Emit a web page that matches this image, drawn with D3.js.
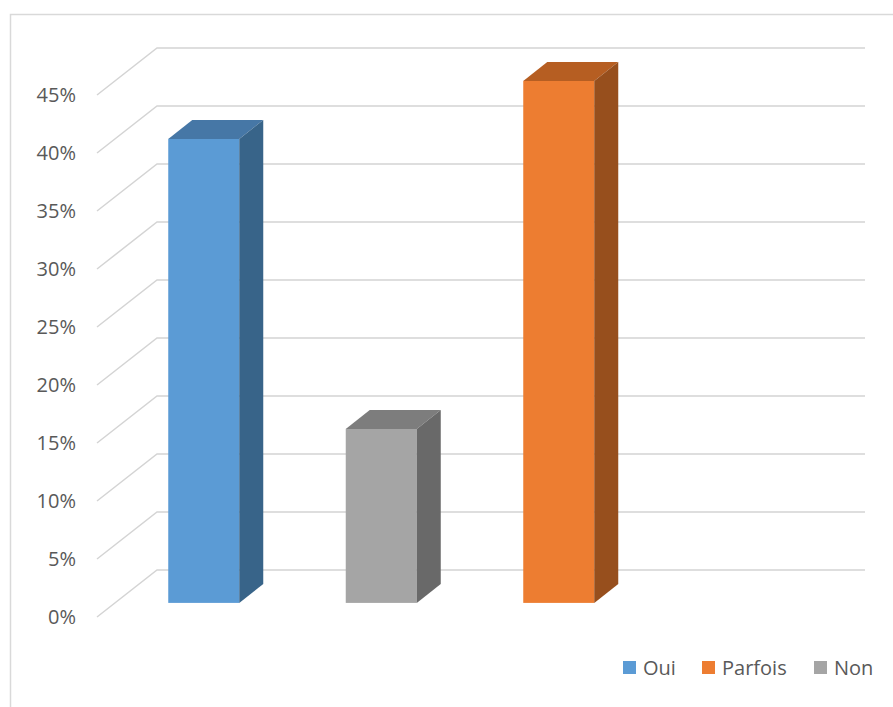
<!DOCTYPE html>
<html>
<head>
<meta charset="utf-8">
<script src="https://cdn.jsdelivr.net/npm/d3@7"></script>
<style>
  html, body { margin: 0; padding: 0; background: #fff; }
  svg { display: block; font-family: "Open Sans", "Noto Sans", sans-serif; }
</style>
</head>
<body>
<svg id="chart" width="893" height="707"></svg>
<script>
// Survey answers, share of respondents
const categories = ["Oui", "Non", "Parfois"];
const values = [0.40, 0.15, 0.45];
const colors = ["#5b9bd5", "#a5a5a5", "#ed7d31"];
const topColors = ["#4677a6", "#7d7d7d", "#b65e22"];
const sideColors = ["#386489", "#696969", "#974f1d"];
const legendOrder = ["Oui", "Parfois", "Non"];
const tickValues = [0, 0.05, 0.10, 0.15, 0.20, 0.25, 0.30, 0.35, 0.40, 0.45];

const svg = d3.select("#chart");

// Oblique projection: full floor depth shifts points right and up
const depthX = 60, depthY = -47;
const barNear = 0.3, barFar = 0.7;

const frontLeft = 97, backRight = 865;
const y = d3.scaleLinear().domain([0, 0.45]).range([617, 95]);
const x = d3.scaleBand()
  .domain(categories)
  .range([frontLeft, frontLeft + 177.5 * 3])
  .paddingInner(0.6)
  .paddingOuter(0.3);

// Chart frame
svg.append("path")
  .attr("d", "M10.5,707 L10.5,14.5 L893,14.5")
  .attr("fill", "none")
  .attr("stroke", "#d9d9d9")
  .attr("stroke-width", 1.5);

// Gridlines: wall line plus its diagonal down to the front edge
const grid = svg.append("g").attr("fill", "none").attr("stroke", "#d4d4d4").attr("stroke-width", 1.5);
grid.selectAll("path")
  .data(tickValues)
  .join("path")
  .attr("d", t => {
    const yf = y(t);
    return `M${frontLeft},${yf} L${frontLeft + depthX},${yf + depthY} L${backRight},${yf + depthY}`;
  });

// Tick labels
svg.append("g")
  .selectAll("text")
  .data(tickValues)
  .join("text")
  .attr("x", 76)
  .attr("y", t => y(t))
  .attr("dy", "0.36em")
  .attr("text-anchor", "end")
  .attr("fill", "#595959")
  .attr("font-size", 20)
  .text(d3.format(".0%"));

// 3D bars
const bars = svg.append("g");
categories.forEach((c, i) => {
  const v = values[i];
  const ox = depthX * barNear, oy = depthY * barNear;
  const dx = depthX * (barFar - barNear), dy = depthY * (barFar - barNear);
  const x0 = x(c) + ox, x1 = x0 + x.bandwidth();
  const yTop = y(v) + oy, yBot = y(0) + oy;
  const g = bars.append("g");
  // front face
  g.append("rect")
    .attr("x", x0).attr("y", yTop)
    .attr("width", x1 - x0).attr("height", yBot - yTop)
    .attr("fill", colors[i]);
  // top face
  g.append("path")
    .attr("d", `M${x0},${yTop} L${x0 + dx},${yTop + dy} L${x1 + dx},${yTop + dy} L${x1},${yTop} Z`)
    .attr("fill", topColors[i]);
  // side face
  g.append("path")
    .attr("d", `M${x1},${yTop} L${x1 + dx},${yTop + dy} L${x1 + dx},${yBot + dy} L${x1},${yBot} Z`)
    .attr("fill", sideColors[i]);
});

// Legend
const legend = svg.append("g").attr("font-size", 20).attr("fill", "#595959");
const legendX = [623, 702, 814];
legendOrder.forEach((name, k) => {
  const i = categories.indexOf(name);
  legend.append("rect")
    .attr("x", legendX[k]).attr("y", 661)
    .attr("width", 13).attr("height", 13)
    .attr("fill", colors[i]);
  legend.append("text")
    .attr("x", legendX[k] + 20).attr("y", 667.5)
    .attr("dy", "0.36em")
    .text(name);
});
</script>
</body>
</html>
